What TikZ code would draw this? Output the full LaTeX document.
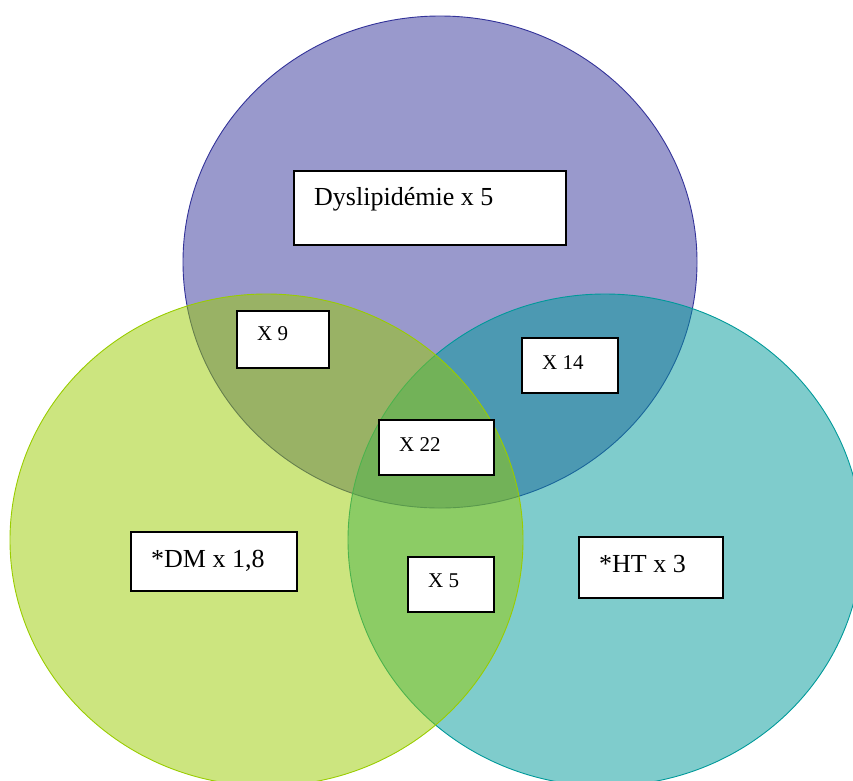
\documentclass[tikz,border=0pt]{standalone}
\usepackage{fontspec}
\setmainfont{Liberation Serif}
\definecolor{cpurple}{HTML}{333399}
\definecolor{cgreen}{HTML}{99CC00}
\definecolor{cteal}{HTML}{009999}
\begin{document}
\begin{tikzpicture}[x=1pt,y=-1pt,
  setcircle/.style={fill opacity=0.5, line width=0.9pt},
  box/.style={draw=black, fill=white, line width=1.6pt, inner sep=0pt, anchor=north west},
  bigtxt/.style={anchor=base west, inner sep=0pt, font=\fontsize{26}{30}\selectfont},
  smalltxt/.style={anchor=base west, inner sep=0pt, font=\fontsize{21}{25}\selectfont}]
\useasboundingbox (0,0) rectangle (853,780);
\clip (0,0) rectangle (853,780);
% circles
\filldraw[setcircle, fill=cpurple, draw=cpurple] (440,262) ellipse [x radius=257, y radius=246];
\filldraw[setcircle, fill=cteal, draw=cteal] (605,540) ellipse [x radius=257, y radius=246];
\filldraw[setcircle, fill=cgreen, draw=cgreen] (266.5,540) ellipse [x radius=256.5, y radius=246];
% boxes
\node[box, minimum width=272, minimum height=74] (bdys) at (293,170) {};
\node[bigtxt] (tdys) at (314,205) {Dyslipidémie x 5};
\node[box, minimum width=92, minimum height=57] (b9) at (236,310) {};
\node[smalltxt] (t9) at (257,340) {X 9};
\node[box, minimum width=96, minimum height=55] (b14) at (521,337) {};
\node[smalltxt] (t14) at (542,369) {X 14};
\node[box, minimum width=115, minimum height=55] (b22) at (378,419) {};
\node[smalltxt] (t22) at (399,451) {X 22};
\node[box, minimum width=86, minimum height=55] (b5) at (407,556) {};
\node[smalltxt] (t5) at (428,587) {X 5};
\node[box, minimum width=166, minimum height=59] (bdm) at (130,531) {};
\node[bigtxt] (tdm) at (151,567) {*DM x 1,8};
\node[box, minimum width=144, minimum height=61] (bht) at (578,536) {};
\node[bigtxt] (tht) at (599,572) {*HT x 3};
\end{tikzpicture}
\end{document}
